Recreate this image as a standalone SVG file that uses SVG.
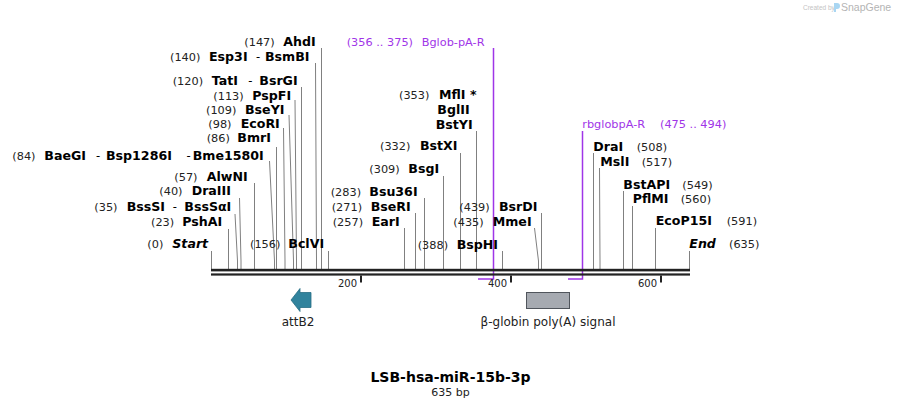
<svg xmlns="http://www.w3.org/2000/svg" width="901" height="408" viewBox="0 0 901 408">
<style>
.n{font-family:"DejaVu Sans",Verdana,sans-serif;font-size:11.3px;fill:#222}
.b{font-family:"DejaVu Sans",Verdana,sans-serif;font-size:12.6px;font-weight:bold;fill:#000}
.bi{font-family:"DejaVu Sans",Verdana,sans-serif;font-size:12.6px;font-weight:bold;font-style:italic;fill:#000}
.d{font-family:"DejaVu Sans",Verdana,sans-serif;font-size:11.5px;fill:#000}
.p{font-family:"DejaVu Sans",Verdana,sans-serif;font-size:11.3px;fill:#9f35e8}
.ln{fill:none;stroke:#808080;stroke-width:1}
.pr{fill:none;stroke:#9f35e8;stroke-width:1.5}
.f{font-family:"DejaVu Sans",Verdana,sans-serif;font-size:12px;fill:#222;text-anchor:middle}
.tk{font-family:"DejaVu Sans",Verdana,sans-serif;font-size:10px;fill:#222;text-anchor:end}
</style>
<rect width="901" height="408" fill="#fff"/>

<g id="watermark">
<text x="803" y="10" font-family="Liberation Sans,Arial,sans-serif" font-size="6.5" fill="#c4c4c4">Created by</text>
<path d="M834 3 h3 a3 3 0 0 1 0 6 h-1 v3 h-2 z" fill="#a9d6f2"/>
<text x="841" y="10.5" font-family="Liberation Sans,Arial,sans-serif" font-size="10.5" fill="#b4b4b4">SnapGene</text>
</g>

<g id="connectors">
<polyline class="ln" points="211.5,251 211.5,269"/>
<polyline class="ln" points="228.5,229 228.5,269"/>
<polyline class="ln" points="235,214 237.5,261 237.5,269"/>
<polyline class="ln" points="239.5,198 241,261 241,269"/>
<polyline class="ln" points="254.5,183 254.5,269"/>
<polyline class="ln" points="269.5,161 274.5,261 274.5,269"/>
<polyline class="ln" points="276.5,147 276.5,269"/>
<polyline class="ln" points="283.5,128 285,261 285,269"/>
<polyline class="ln" points="289,115 293.5,261 293.5,269"/>
<polyline class="ln" points="295,100 296.5,261 296.5,269"/>
<polyline class="ln" points="301.5,87 301.5,269"/>
<polyline class="ln" points="315.5,63 316.5,261 316.5,269"/>
<polyline class="ln" points="321.5,48 321.5,269"/>
<polyline class="ln" points="328.5,251 328.5,269"/>
<polyline class="ln" points="404.5,228 404.5,269"/>
<polyline class="ln" points="415.5,213 415.5,269"/>
<polyline class="ln" points="424.5,198 424.5,269"/>
<polyline class="ln" points="443.5,176 443.5,269"/>
<polyline class="ln" points="460.5,153 460.5,269"/>
<polyline class="ln" points="476.5,131 476.5,269"/>
<polyline class="ln" points="502.5,251 502.5,269"/>
<polyline class="ln" points="534.5,228 538.5,261 538.5,269"/>
<polyline class="ln" points="541.5,213 541.5,269"/>
<polyline class="ln" points="593.5,153 593.5,269"/>
<polyline class="ln" points="599.5,168 600,261 600,269"/>
<polyline class="ln" points="623.5,191 623.5,269"/>
<polyline class="ln" points="632.5,206 632.5,269"/>
<polyline class="ln" points="655.5,228 655.5,269"/>
<polyline class="ln" points="689.5,251 689.5,269"/>
<polyline class="pr" points="493.5,48 493.5,279 478,279"/>
<polyline class="pr" points="582.5,131 582.5,279 568,279"/>
</g>

<g id="backbone">
<rect x="211" y="268.8" width="479" height="2.6" fill="#222"/>
<rect x="211" y="273.4" width="479" height="2.2" fill="#222"/>
<rect x="360" y="275.5" width="2" height="7" fill="#222"/>
<rect x="510" y="275.5" width="2" height="7" fill="#222"/>
<rect x="660" y="275.5" width="2" height="7" fill="#222"/>
<text class="tk" x="357" y="286.5">200</text>
<text class="tk" x="507" y="286.5">400</text>
<text class="tk" x="657" y="286.5">600</text>
</g>

<g id="attB2">
<path d="M291,300 L300,288.5 L300,292.5 L311,292.5 L311,307.5 L300,307.5 L300,311.5 Z" fill="#31839d" stroke="#276d84" stroke-width="0.8"/>
<text class="f" x="298" y="326">attB2</text>
</g>
<g id="polyA">
<rect x="526.5" y="292.5" width="43" height="16" fill="#a6aab1" stroke="#50555c" stroke-width="1"/>
<text class="f" x="548" y="326">β-globin poly(A) signal</text>
</g>

<g id="AhdI"><text class="n" x="244.3" y="45.5">(147)</text><text class="b" x="283.3" y="45.5">AhdI</text></g>
<g id="Esp3I"><text class="n" x="170" y="60.5">(140)</text><text class="b" x="209" y="60.5">Esp3I</text><text class="d" x="256" y="60.5">-</text><text class="b" x="265" y="60.5">BsmBI</text></g>
<g id="TatI"><text class="n" x="172.7" y="85">(120)</text><text class="b" x="211.7" y="85">TatI</text><text class="d" x="248.3" y="85">-</text><text class="b" x="259.3" y="85">BsrGI</text></g>
<g id="PspFI"><text class="n" x="213.3" y="99.5">(113)</text><text class="b" x="252.3" y="99.5">PspFI</text></g>
<g id="BseYI"><text class="n" x="206" y="113.5">(109)</text><text class="b" x="245" y="113.5">BseYI</text></g>
<g id="EcoRI"><text class="n" x="208.3" y="127.5">(98)</text><text class="b" x="240.7" y="127.5">EcoRI</text></g>
<g id="BmrI"><text class="n" x="206.7" y="142">(86)</text><text class="b" x="237.3" y="142">BmrI</text></g>
<g id="BaeGI"><text class="n" x="12.3" y="159.5">(84)</text><text class="b" x="44.3" y="159.5">BaeGI</text><text class="d" x="96" y="159.5">-</text><text class="b" x="106" y="159.5">Bsp1286I</text><text class="d" x="186.5" y="159.5">-</text><text class="b" x="192.7" y="159.5">Bme1580I</text></g>
<g id="AlwNI"><text class="n" x="174.3" y="180.5">(57)</text><text class="b" x="206.7" y="180.5">AlwNI</text></g>
<g id="DraIII"><text class="n" x="159.3" y="195">(40)</text><text class="b" x="191.7" y="195">DraIII</text></g>
<g id="BssSI"><text class="n" x="94.3" y="210.5">(35)</text><text class="b" x="126.7" y="210.5">BssSI</text><text class="d" x="172.7" y="210.5">-</text><text class="b" x="184.3" y="210.5">BssSαI</text></g>
<g id="PshAI"><text class="n" x="151" y="226">(23)</text><text class="b" x="182.3" y="226">PshAI</text></g>
<g id="Start"><text class="n" x="147.3" y="248.3">(0)</text><text class="bi" x="172.3" y="248.3">Start</text></g>
<g id="BclVI"><text class="n" x="250" y="248.3">(156)</text><text class="b" x="288.3" y="248.3">BclVI</text></g>

<g id="Bglob-pA-R"><text class="p" x="346.7" y="45.5">(356 .. 375)</text><text class="p" x="421.7" y="45.5">Bglob-pA-R</text></g>
<g id="MflI"><text class="n" x="399" y="99">(353)</text><text class="b" x="439" y="99">MflI *</text><text class="b" x="437.3" y="114">BglII</text><text class="b" x="435.7" y="129">BstYI</text></g>
<g id="BstXI"><text class="n" x="380" y="150">(332)</text><text class="b" x="420" y="150">BstXI</text></g>
<g id="BsgI"><text class="n" x="369.3" y="173">(309)</text><text class="b" x="408.3" y="173">BsgI</text></g>
<g id="Bsu36I"><text class="n" x="330.7" y="195.5">(283)</text><text class="b" x="369.3" y="195.5">Bsu36I</text></g>
<g id="BseRI"><text class="n" x="331.7" y="210.5">(271)</text><text class="b" x="370.7" y="210.5">BseRI</text></g>
<g id="EarI"><text class="n" x="332.7" y="225.5">(257)</text><text class="b" x="371.7" y="225.5">EarI</text></g>
<g id="BspHI"><text class="n" x="417.7" y="248.5">(388)</text><text class="b" x="456.7" y="248.5">BspHI</text></g>
<g id="BsrDI"><text class="n" x="459.3" y="210.5">(439)</text><text class="b" x="499" y="210.5">BsrDI</text></g>
<g id="MmeI"><text class="n" x="453.3" y="225.5">(435)</text><text class="b" x="492.7" y="225.5">MmeI</text></g>

<g id="rbglobpA-R"><text class="p" x="582.3" y="128.3">rbglobpA-R</text><text class="p" x="660" y="128.3">(475 .. 494)</text></g>
<g id="DraI"><text class="b" x="593.3" y="150.5">DraI</text><text class="n" x="636.7" y="150.5">(508)</text></g>
<g id="MslI"><text class="b" x="600.3" y="165.5">MslI</text><text class="n" x="641.7" y="165.5">(517)</text></g>
<g id="BstAPI"><text class="b" x="623.3" y="189">BstAPI</text><text class="n" x="682.3" y="189">(549)</text></g>
<g id="PflMI"><text class="b" x="632.7" y="203.3">PflMI</text><text class="n" x="680.7" y="203.3">(560)</text></g>
<g id="EcoP15I"><text class="b" x="655.7" y="225">EcoP15I</text><text class="n" x="726.7" y="225">(591)</text></g>
<g id="End"><text class="bi" x="689.3" y="248.3">End</text><text class="n" x="729" y="248.3">(635)</text></g>

<g id="title">
<text x="450.5" y="382" font-family="DejaVu Sans,Verdana,sans-serif" font-size="14" font-weight="bold" fill="#000" text-anchor="middle">LSB-hsa-miR-15b-3p</text>
<text x="450.5" y="396" font-family="DejaVu Sans,Verdana,sans-serif" font-size="11" fill="#222" text-anchor="middle">635 bp</text>
</g>
</svg>
